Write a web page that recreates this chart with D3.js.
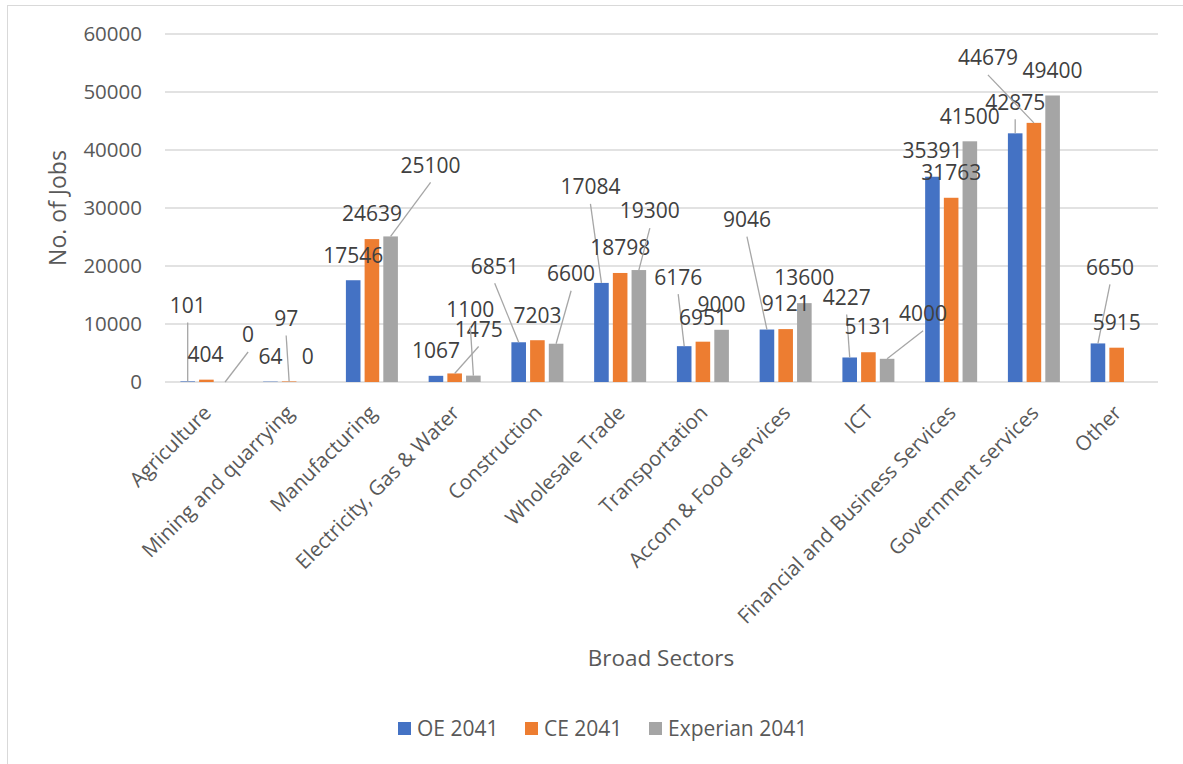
<!DOCTYPE html>
<html><head><meta charset="utf-8">
<script src="https://cdn.jsdelivr.net/npm/d3@7"></script>
<style>body{margin:0;background:#fff;} svg{display:block;font-family:"Open Sans",sans-serif;}</style>
</head><body>
<script>
const categories = ["Agriculture","Mining and quarrying","Manufacturing","Electricity, Gas & Water","Construction","Wholesale Trade","Transportation","Accom & Food services","ICT","Financial and Business Services","Government services","Other"];
const seriesNames = ["OE 2041","CE 2041","Experian 2041"];
const oe2041 = [101,64,17546,1067,6851,17084,6176,9046,4227,35391,42875,6650];
const ce2041 = [404,97,24639,1475,7203,18798,6951,9121,5131,31763,44679,5915];
const experian2041 = [0,0,25100,1100,6600,19300,9000,13600,4000,41500,49400,null];
const yTicks = [0,10000,20000,30000,40000,50000,60000];
// label offsets [dx, dy, leader] relative to bar top (pixels)
const labelOffsets = [
  [[0,-76,1],[-1,-25,0],[23,-47,1]],
  [[0,-25,0],[-3,-63,1],[0,-25,0]],
  [[0,-25,0],[0,-25,0],[40,-71,1]],
  [[0,-25,0],[24,-44,1],[-3,-66,1]],
  [[-24,-76,1],[0,-25,0],[15,-70,1]],
  [[-11,-96,1],[0,-25,0],[11,-59,1]],
  [[-6,-69,1],[0,-24,0],[0,-25,0]],
  [[-20,-110,1],[0,-25,0],[0,-25,0]],
  [[-3,-60,1],[0,-26,0],[36,-45,1]],
  [[0,-26,0],[0,-25,0],[0,-25,0]],
  [[0,-31,1],[-46,-65,1],[0,-25,0]],
  [[12,-76,1],[0,-25,0],[0,0,0]]
];
const colors = ["#4472c4","#ed7d31","#a5a5a5"];
const W=1183,H=764;
const svg=d3.select("body").append("svg").attr("width",W).attr("height",H);
svg.append("rect").attr("x",7.5).attr("y",5.5).attr("width",1200).attr("height",800).attr("fill","none").attr("stroke","#d9d9d9").attr("stroke-width",1);

const x0=d3.scaleBand().domain(categories).range([165,1158]).paddingInner(0).paddingOuter(0);
const x1=d3.scaleBand().domain(seriesNames).range([15.4,67.4]).paddingInner(0.22).paddingOuter(0);
const y=d3.scaleLinear().domain([0,60000]).range([382,34]);

// gridlines
svg.append("g").selectAll("line").data(yTicks).join("line")
  .attr("x1",165).attr("x2",1158).attr("y1",d=>y(d)).attr("y2",d=>y(d))
  .attr("stroke","#d9d9d9").attr("stroke-width",1.5);
// y tick labels
const yAxis=d3.axisLeft(y).tickValues(yTicks).tickSize(0).tickPadding(0).tickFormat(d3.format("d"));
const ya=svg.append("g").attr("transform","translate(142,0)").call(yAxis);
ya.select(".domain").remove();
ya.selectAll("text").attr("font-family","Open Sans").attr("font-size",20.5).attr("fill","#595959");

const allSeries=[oe2041,ce2041,experian2041];
const g=svg.append("g");
const labG=svg.append("g");
categories.forEach((c,i)=>{
  allSeries.forEach((s,j)=>{
    const v=s[i];
    if(v===null||v===undefined) return;
    const bx=x0(c)+x1(seriesNames[j]);
    const bw=x1.bandwidth();
    g.append("rect").attr("x",bx).attr("y",y(v)).attr("width",bw).attr("height",y(0)-y(v)).attr("fill",colors[j]);
    const cx=bx+bw/2, cy=y(v);
    const o=labelOffsets[i][j];
    const lx=cx+o[0], ly=cy+o[1];
    if(o[2]){
      labG.append("line").attr("x1",lx).attr("y1",ly+17).attr("x2",cx).attr("y2",cy)
        .attr("stroke","#a6a6a6").attr("stroke-width",1.3);
    }
    labG.append("text").attr("x",lx).attr("y",ly).attr("dy","0.35em").attr("text-anchor","middle")
      .attr("font-size",21).attr("fill","#404040").text(v);
  });
});

// category labels
svg.append("g").selectAll("text").data(categories).join("text")
  .attr("transform",d=>`translate(${x0(d)+x0.bandwidth()/2+1},409) rotate(-45)`)
  .attr("text-anchor","end").attr("dy","0.35em").attr("font-size",20.5).attr("fill","#595959").text(d=>d);

// axis titles
svg.append("text").attr("transform","translate(58,208) rotate(-90)").attr("text-anchor","middle").attr("dy","0.35em")
  .attr("font-size",23).attr("fill","#595959").text("No. of Jobs");
svg.append("text").attr("x",661).attr("y",658).attr("text-anchor","middle").attr("dy","0.35em")
  .attr("font-size",22.5).attr("fill","#595959").text("Broad Sectors");

// legend
const legX=[398,525,649];
const lg=svg.append("g");
seriesNames.forEach((s,j)=>{
  lg.append("rect").attr("x",legX[j]).attr("y",722).attr("width",13).attr("height",13).attr("fill",colors[j]);
  lg.append("text").attr("x",legX[j]+19).attr("y",728.5).attr("dy","0.35em").attr("font-size",21).attr("fill","#595959").text(s);
});
</script>
</body></html>
